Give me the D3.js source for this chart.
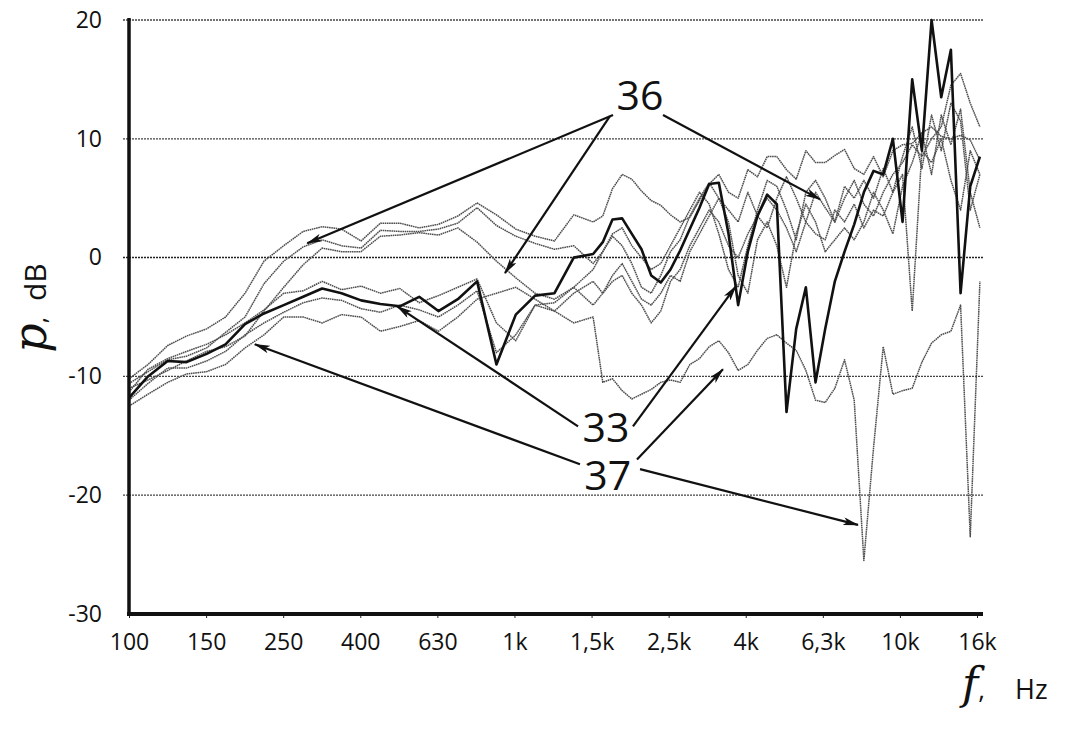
<!DOCTYPE html>
<html>
<head>
<meta charset="utf-8">
<script src="https://cdn.jsdelivr.net/npm/d3@7"></script>
<style>
  body { margin: 0; background: #fff; }
  svg text { font-family: "Open Sans", "DejaVu Sans", sans-serif; fill: #111; }
</style>
</head>
<body>
<div id="chart"></div>
<script>
// frequency points (Hz): 1/6 octave up to 1.6k, 1/12 octave above
var freqs = [100,112,126,141,159,178,200,224,252,283,317,356,400,449,504,566,635,713,800,898,
  1008,1131,1270,1425,1600,1695,1796,1903,2016,2136,2263,2397,2540,2691,2851,3020,3200,3390,3592,3805,
  4032,4271,4525,4794,5079,5382,5702,6041,6400,6780,7184,7611,8063,8543,9051,9589,10159,10763,11404,12082,
  12800,13561,14368,15222,16127];

// group 36 (upper)
var s36a = [-10.2,-9.0,-7.4,-6.6,-6.0,-5.0,-3.0,-0.3,1.0,2.2,2.6,2.4,
  1.4,2.9,2.9,2.5,2.8,3.5,4.6,3.6,2.4,1.8,1.4,3.6,3.0,
  3.5,5.8,7.0,6.6,5.6,4.8,4.4,3.6,3.0,3.4,4.8,6.2,
  7.0,5.5,5.0,7.4,6.8,8.5,8.5,7.4,6.6,9.0,8.0,8.0,
  8.6,9.1,7.5,7.0,8.5,6.8,9.0,9.5,9.6,10.5,11.0,10.2,10.0,10.3,9.9,8.2];
var s36b = [-10.6,-9.6,-8.6,-8.3,-7.6,-6.3,-5.0,-2.2,-0.3,0.9,1.5,1.0,
  0.8,2.3,2.2,2.2,2.4,2.9,4.2,2.7,1.8,1.2,0.7,1.0,-0.5,
  0.5,1.8,1.0,-0.5,-2.5,-3.0,-1.5,0.5,1.5,3.5,5.0,6.3,
  5.0,4.0,3.0,5.5,3.5,2.5,5.0,6.8,5.0,3.0,5.5,4.2,
  3.0,5.0,6.5,4.5,3.5,5.5,7.0,8.0,9.5,8.5,10.0,11.0,14.5,15.5,13.0,11.0];
var s36c = [-11.0,-10.3,-9.5,-8.7,-7.9,-7.5,-6.6,-4.5,-2.5,-0.6,0.8,0.5,
  0.5,1.8,1.9,2.1,1.9,2.5,1.3,-0.3,-1.7,-3.0,-3.5,-2.5,-4.0,
  -3.0,-2.0,-1.5,-3.0,-4.0,-5.5,-4.5,-2.0,-1.0,1.0,2.5,4.0,
  3.0,1.0,0.0,2.0,3.5,5.0,4.0,2.5,0.5,3.0,2.0,1.5,
  4.0,3.0,4.5,2.5,4.0,3.5,5.5,7.0,-4.5,9.0,8.0,10.0,6.5,4.0,9.0,7.0];

// group 33 (middle), s33dark is the heavy black curve
var s33dark = [-11.8,-10.0,-8.7,-8.8,-8.1,-7.3,-5.6,-4.7,-4.0,-3.3,-2.6,-3.0,
  -3.6,-3.9,-4.1,-3.3,-4.5,-3.5,-2.0,-9.0,-4.8,-3.2,-3.0,0.0,0.3,
  1.3,3.2,3.3,2.0,0.7,-1.5,-2.1,-1.0,0.6,2.4,4.2,6.2,
  6.3,2.0,-4.0,0.5,3.5,5.3,4.5,-13.0,-6.0,-2.5,-10.5,-6.0,
  -2.0,0.5,2.8,5.5,7.3,7.0,10.0,3.0,15.0,9.0,20.0,13.5,17.5,-3.0,6.0,8.5];
var s33b = [-11.3,-9.4,-8.5,-7.9,-7.3,-6.5,-5.5,-4.4,-3.0,-2.8,-2.0,-2.7,
  -2.4,-3.0,-2.6,-3.8,-3.2,-2.5,-1.8,-5.5,-7.0,-4.0,-3.8,-2.5,-1.0,
  0.5,2.0,2.5,1.0,0.0,-1.0,-0.5,1.0,2.5,4.0,5.5,4.5,
  2.0,-1.0,-2.5,1.0,4.0,6.5,6.0,4.0,1.5,5.5,6.5,5.0,
  3.0,6.0,5.0,6.5,5.0,7.5,5.5,8.5,11.0,7.5,12.0,9.0,13.0,11.5,4.0,7.0];
var s33c = [-12.0,-10.6,-9.3,-9.3,-8.7,-7.9,-6.5,-5.5,-4.6,-3.8,-3.4,-3.6,
  -4.3,-4.6,-4.0,-4.4,-5.0,-4.0,-2.8,-8.0,-6.5,-4.0,-4.5,-3.0,-2.0,
  -3.0,-1.5,-0.5,-2.0,-3.5,-4.0,-3.0,-1.5,-2.0,0.5,2.0,3.5,
  5.0,3.0,-1.5,-3.0,1.5,3.0,1.0,-2.5,2.0,4.5,3.0,0.5,
  1.5,2.5,1.5,3.0,5.5,4.0,2.0,6.0,8.0,10.5,7.0,12.0,9.5,12.5,5.5,2.5];

// group 37 (lower)
var s37 = [-12.5,-11.5,-10.5,-9.8,-9.6,-9.0,-7.6,-6.5,-5.0,-5.0,-5.5,-4.8,
  -5.0,-6.2,-5.8,-5.3,-6.2,-5.0,-3.5,-3.0,-2.5,-3.5,-4.5,-5.5,-5.0,
  -10.5,-10.2,-11.2,-11.9,-11.5,-11.1,-10.5,-10.3,-10.5,-9.0,-8.5,-7.5,
  -7.0,-8.0,-9.5,-9.0,-7.8,-6.8,-6.5,-7.2,-7.8,-9.5,-12.0,-12.2,
  -11.0,-8.6,-12.0,-25.5,-16.0,-7.5,-11.5,-11.2,-11.0,-8.8,-7.2,-6.5,-6.2,-4.0,-23.5,-2.0];

var tickFreqs = [100,158.5,251.2,398.1,631,1000,1585,2512,3981,6310,10000,15849];
var tickLabels = ["100","150","250","400","630","1k","1,5k","2,5k","4k","6,3k","10k","16k"];
var dbTicks = [-30,-20,-10,0,10,20];

// reference labels: [text, freq, dB]
var refLabels = [["36",2117,12.4],["33",1728,-15.5],["37",1745,-19.6]];
// leader arrows: [fromFreq, fromDb, toFreq, toDb]
var arrows36 = [[1802,12.0,290,1.2],[1769,11.9,945,-1.3],[2429,12.0,6203,4.9]];
var arrows33 = [[1462,-14.2,496,-4.1],[2030,-14.2,3756,-2.4]];
var arrows37 = [[1479,-17.4,212,-7.3],[2079,-17.0,3475,-9.4],[2117,-17.8,7785,-22.5]];

(function () {
	var width = 1065, height = 730,
		left = 129, right = 977, gridRight = 983,
		plotTop = 20, plotBottom = 614;

	var svg = d3.select("#chart").append("svg")
		.attr("width", width)
		.attr("height", height);

	var x = d3.scaleLog().domain([100, 15849]).range([left, right]);
	var y = d3.scaleLinear().domain([-30, 20]).range([plotBottom, plotTop]);

	// grid
	svg.append("g").selectAll("line")
		.data(dbTicks.filter(function (d) { return d > -30; }))
		.join("line")
		.attr("x1", left - 6).attr("x2", gridRight)
		.attr("y1", function (d) { return y(d); })
		.attr("y2", function (d) { return y(d); })
		.attr("stroke", function (d) { return d === 0 ? "#222" : "#444"; })
		.attr("stroke-width", function (d) { return d === 0 ? 1.5 : 1.3; })
		.attr("stroke-dasharray", "2,1");

	// curves
	var series = [
		{ name: "36a", values: s36a },
		{ name: "36b", values: s36b },
		{ name: "36c", values: s36c },
		{ name: "33b", values: s33b },
		{ name: "33c", values: s33c },
		{ name: "37", values: s37 },
		{ name: "33", values: s33dark, dark: true }
	];

	var line = d3.line()
		.x(function (d, i) { return x(freqs[i]); })
		.y(function (d) { return y(d); });

	svg.append("g").selectAll("path")
		.data(series)
		.join("path")
		.attr("d", function (d) { return line(d.values); })
		.attr("fill", "none")
		.attr("stroke", function (d) { return d.dark ? "#111" : "#4d4d4d"; })
		.attr("stroke-width", function (d) { return d.dark ? 2.6 : 1.5; })
		.attr("stroke-dasharray", function (d) { return d.dark ? null : "1.6,0.6"; })
		.attr("stroke-linejoin", "round");

	// axes
	var xAxis = d3.axisBottom(x)
		.tickValues(tickFreqs)
		.tickFormat(function (d, i) { return tickLabels[i]; })
		.tickSize(4)
		.tickPadding(16);
	var gx = svg.append("g").attr("transform", "translate(0," + plotBottom + ")").call(xAxis);
	gx.select(".domain").remove();
	gx.selectAll(".tick line").attr("stroke", "#222");
	gx.selectAll(".tick text").attr("font-size", 23).attr("font-family", "Open Sans");

	var yAxis = d3.axisLeft(y)
		.tickValues(dbTicks)
		.tickFormat(function (d) { return String(d); })
		.tickSize(0)
		.tickPadding(27);
	var gy = svg.append("g").attr("transform", "translate(" + left + ",0)").call(yAxis);
	gy.select(".domain").remove();
	gy.selectAll(".tick text").attr("font-size", 23).attr("font-family", "Open Sans");

	svg.append("line")
		.attr("x1", left).attr("x2", left)
		.attr("y1", plotTop - 2).attr("y2", plotBottom + 2)
		.attr("stroke", "#111").attr("stroke-width", 3.5);
	svg.append("line")
		.attr("x1", left - 2).attr("x2", gridRight)
		.attr("y1", plotBottom).attr("y2", plotBottom)
		.attr("stroke", "#111").attr("stroke-width", 4);

	// arrows
	svg.append("defs").append("marker")
		.attr("id", "head")
		.attr("viewBox", "0 0 16 8")
		.attr("refX", 15).attr("refY", 4)
		.attr("markerWidth", 16).attr("markerHeight", 8)
		.attr("markerUnits", "userSpaceOnUse")
		.attr("orient", "auto")
		.append("path")
		.attr("d", "M0,0 L16,4 L0,8 L4,4 Z")
		.attr("fill", "#111");

	var allArrows = arrows36.concat(arrows33, arrows37);
	svg.append("g").selectAll("line")
		.data(allArrows)
		.join("line")
		.attr("x1", function (d) { return x(d[0]); })
		.attr("y1", function (d) { return y(d[1]); })
		.attr("x2", function (d) { return x(d[2]); })
		.attr("y2", function (d) { return y(d[3]); })
		.attr("stroke", "#111")
		.attr("stroke-width", 2.2)
		.attr("marker-end", "url(#head)");

	svg.append("g").selectAll("text")
		.data(refLabels)
		.join("text")
		.attr("x", function (d) { return x(d[1]); })
		.attr("y", function (d) { return y(d[2]); })
		.attr("text-anchor", "middle")
		.attr("font-size", 41)
		.text(function (d) { return d[0]; });

	// axis titles
	var yt = svg.append("text")
		.attr("transform", "translate(46,308) rotate(-90)")
		.attr("text-anchor", "middle");
	yt.append("tspan").attr("font-family", "DejaVu Serif").attr("font-style", "italic")
		.attr("font-size", 46).text("p");
	yt.append("tspan").attr("font-size", 24).text(",");
	yt.append("tspan").attr("font-size", 30).attr("dx", 16).text("dB");

	var xt = svg.append("text")
		.attr("x", 962).attr("y", 699);
	xt.append("tspan").attr("font-family", "DejaVu Serif").attr("font-style", "italic")
		.attr("font-size", 44).text("f");
	xt.append("tspan").attr("font-size", 26).text(",");
	xt.append("tspan").attr("font-size", 27).attr("dx", 30).text("Hz");
})();
</script>
</body>
</html>
